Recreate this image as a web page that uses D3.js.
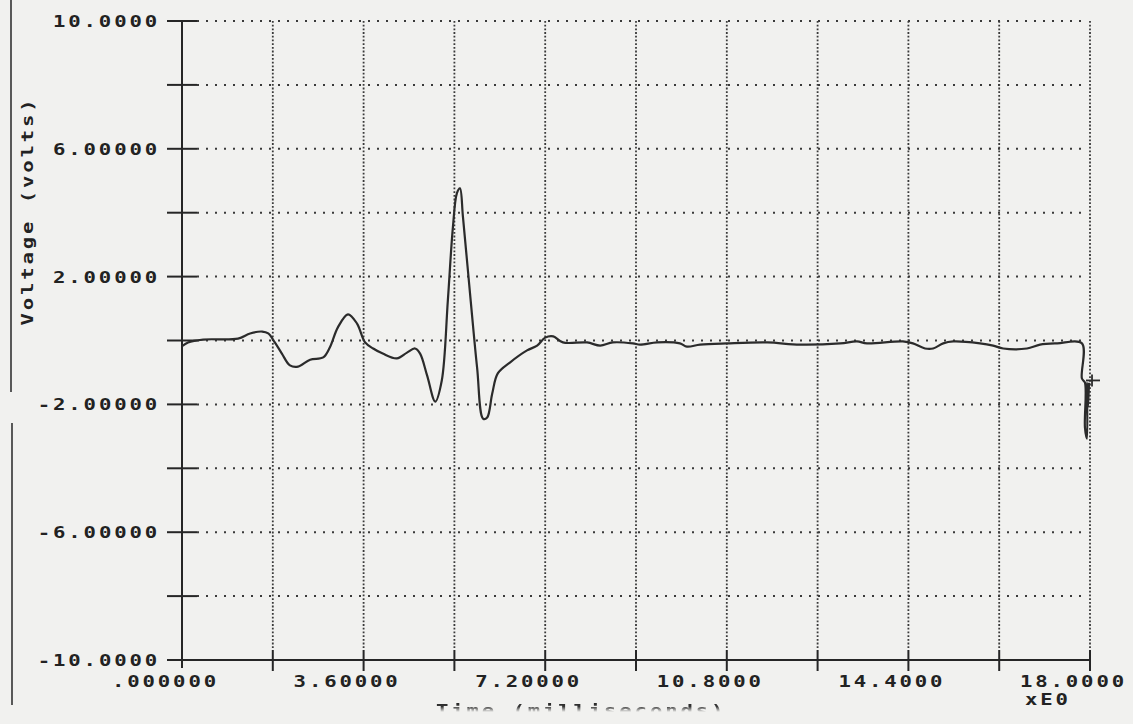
<!DOCTYPE html>
<html>
<head>
<meta charset="utf-8">
<script src="https://cdn.jsdelivr.net/npm/d3@7/dist/d3.min.js"></script>
<style>
  html, body { margin: 0; padding: 0; background: #f1f1ef; }
  svg { display: block; }
  .lbl { font-family: "DejaVu Sans Mono", "Liberation Mono", monospace; font-weight: bold; font-size: 16.5px; fill: #222; letter-spacing: 2.3px; }
</style>
</head>
<body>
<svg id="chart" width="1133" height="724"></svg>
<script>
// Recorded waveform: time and voltage (V)
const timeValues = [
  0.00, 0.12, 0.42, 1.11, 1.35, 1.59, 1.71, 1.84, 1.98, 2.14, 2.30, 2.54, 2.80, 2.93,
  3.09, 3.29, 3.47, 3.63, 3.79, 3.98, 4.26, 4.46, 4.62, 4.72, 4.86, 5.02, 5.15, 5.27,
  5.37, 5.45, 5.51, 5.57, 5.71, 5.85, 5.97, 6.05, 6.15, 6.26, 6.50, 6.84, 7.04, 7.20,
  7.36, 7.55, 8.03, 8.29, 8.54, 8.94, 9.08, 9.42, 9.87, 10.01, 10.27, 10.80, 11.60,
  12.25, 13.05, 13.38, 13.58, 14.29, 14.49, 14.73, 14.89, 15.09, 15.29, 15.82, 16.08,
  16.28, 16.75, 17.01, 17.35, 17.84, 17.84, 17.90, 17.90, 17.94, 17.94, 17.96, 17.98
];
const voltageValues = [
  -0.18, -0.06, 0.03, 0.06, 0.22, 0.28, 0.22, -0.06, -0.41, -0.78, -0.82, -0.60, -0.53, -0.22,
  0.41, 0.82, 0.53, -0.06, -0.25, -0.41, -0.56, -0.38, -0.25, -0.41, -1.10, -1.91, -1.25, 1.25,
  3.54, 4.61, 4.76, 3.86, 1.47, -0.85, -2.45, -2.41, -1.66, -1.03, -0.69, -0.31, -0.16, 0.09,
  0.13, -0.06, -0.06, -0.16, -0.06, -0.09, -0.13, -0.06, -0.09, -0.19, -0.13, -0.09, -0.06,
  -0.13, -0.09, -0.03, -0.09, -0.03, -0.09, -0.25, -0.25, -0.09, -0.03, -0.09, -0.16,
  -0.25, -0.25, -0.13, -0.09, -0.09, -1.19, -1.32, -2.73, -3.07, -1.32, -2.10, -1.32
];
// Cursor mark at the end of the trace
const cursorTime = 18.04;
const cursorVoltage = -1.25;

// Axis ticks and labels
const yTickValues = [10, 8, 6, 4, 2, 0, -2, -4, -6, -8, -10];
const yLabelValues = [10, 6, 2, -2, -6, -10];
const yLabelTexts = ["10.0000", "6.00000", "2.00000", "-2.00000", "-6.00000", "-10.0000"];
const xTickValues = [0, 1.8, 3.6, 5.4, 7.2, 9.0, 10.8, 12.6, 14.4, 16.2, 18.0];
const xLabelValues = [0, 3.6, 7.2, 10.8, 14.4, 18.0];
const xLabelTexts = [".000000", "3.60000", "7.20000", "10.8000", "14.4000", "18.0000"];
const xMultiplier = "xE0";
const yTitle = "Voltage (volts)";
const xTitle = "Time (milliseconds)";

const svg = d3.select("#chart");
const ink = "#262626";
const WIDEN = 1.25; // plotter glyphs are wider than the screen font

const x = d3.scaleLinear().domain([0, 18]).range([182, 1090]);
const y = d3.scaleLinear().domain([-10, 10]).range([660, 21]);

// page edge from the copy
svg.append("line").attr("x1", 11).attr("x2", 11).attr("y1", 0).attr("y2", 392)
  .attr("stroke", "#333").attr("stroke-width", 1.6);
svg.append("line").attr("x1", 12).attr("x2", 12).attr("y1", 423).attr("y2", 705)
  .attr("stroke", "#333").attr("stroke-width", 1.6);

// dotted grid
const grid = svg.append("g");
grid.selectAll("line.h").data(yTickValues.filter(d => d > -10)).join("line")
  .attr("class", "h")
  .attr("x1", x(0) + 15).attr("x2", x(18) - 3)
  .attr("y1", d => y(d)).attr("y2", d => y(d))
  .attr("stroke", "#3a3a3a").attr("stroke-width", 2)
  .attr("stroke-dasharray", "2,7");
grid.selectAll("line.v").data(xTickValues.filter(d => d > 0)).join("line")
  .attr("class", "v")
  .attr("x1", d => x(d)).attr("x2", d => x(d))
  .attr("y1", y(10)).attr("y2", y(-10) - 10)
  .attr("stroke", "#3a3a3a").attr("stroke-width", 1.8)
  .attr("stroke-dasharray", "1.8,1.9");

// axes
const axes = svg.append("g").attr("stroke", ink).attr("stroke-width", 2);
axes.append("line").attr("x1", x(0)).attr("x2", x(0)).attr("y1", y(10)).attr("y2", y(-10) + 8);
axes.append("line").attr("x1", x(0)).attr("x2", x(18)).attr("y1", y(-10)).attr("y2", y(-10));
axes.selectAll("line.yt").data(yTickValues).join("line")
  .attr("class", "yt")
  .attr("x1", x(0) - 15).attr("x2", x(0) + 15)
  .attr("y1", d => y(d)).attr("y2", d => y(d));
axes.selectAll("line.xt").data(xTickValues.filter(d => d > 0)).join("line")
  .attr("class", "xt")
  .attr("x1", d => x(d)).attr("x2", d => x(d))
  .attr("y1", y(-10) - 10).attr("y2", y(-10) + 11);

// tick labels, drawn in widened plotter-style type
svg.selectAll("text.yl").data(yLabelValues).join("text")
  .attr("class", "lbl yl")
  .attr("text-anchor", "end")
  .attr("transform", d => `translate(160,${y(d) + 6}) scale(${WIDEN},1)`)
  .text((d, i) => yLabelTexts[i]);
svg.selectAll("text.xl").data(xLabelValues).join("text")
  .attr("class", "lbl xl")
  .attr("transform", d => `translate(${x(d) - 70},687) scale(${WIDEN},1)`)
  .text((d, i) => xLabelTexts[i]);
svg.append("text").attr("class", "lbl")
  .attr("transform", `translate(${x(18) - 65},705) scale(${WIDEN},1)`)
  .text(xMultiplier);

// axis titles
svg.append("text").attr("class", "lbl")
  .attr("transform", `translate(33,211) rotate(-90) scale(${WIDEN},1)`)
  .attr("text-anchor", "middle")
  .text(yTitle);

// x title, faded out below its top edge as on the copy
const defs = svg.append("defs");
const fade = defs.append("linearGradient").attr("id", "fade")
  .attr("gradientUnits", "userSpaceOnUse")
  .attr("x1", 0).attr("x2", 0).attr("y1", 702).attr("y2", 712);
fade.append("stop").attr("offset", 0).attr("stop-color", "white").attr("stop-opacity", 1);
fade.append("stop").attr("offset", 0.45).attr("stop-color", "white").attr("stop-opacity", 0.9);
fade.append("stop").attr("offset", 1).attr("stop-color", "white").attr("stop-opacity", 0);
defs.append("mask").attr("id", "fadeMask").attr("maskUnits", "userSpaceOnUse")
  .attr("x", 0).attr("y", 0).attr("width", 1133).attr("height", 724)
  .append("rect").attr("x", 0).attr("y", 0).attr("width", 1133).attr("height", 724)
  .attr("fill", "url(#fade)");
svg.append("g").attr("mask", "url(#fadeMask)")
  .append("text").attr("class", "lbl")
  .attr("transform", `translate(436,716) scale(${WIDEN},1)`)
  .text(xTitle);

// waveform trace
const pts = timeValues.map((t, i) => [t, voltageValues[i]]);
svg.append("path")
  .datum(pts)
  .attr("fill", "none")
  .attr("stroke", "#2b2b2b")
  .attr("stroke-width", 2.2)
  .attr("stroke-linejoin", "round")
  .attr("d", d3.line().x(d => x(d[0])).y(d => y(d[1])).curve(d3.curveCatmullRom.alpha(0.5)));

// cursor cross
const cx = x(cursorTime), cy = y(cursorVoltage);
const cross = svg.append("g").attr("stroke", "#2b2b2b").attr("stroke-width", 1.8);
cross.append("line").attr("x1", cx - 6).attr("x2", cx + 8).attr("y1", cy).attr("y2", cy);
cross.append("line").attr("x1", cx).attr("x2", cx).attr("y1", cy - 6).attr("y2", cy + 6);
</script>
</body>
</html>
